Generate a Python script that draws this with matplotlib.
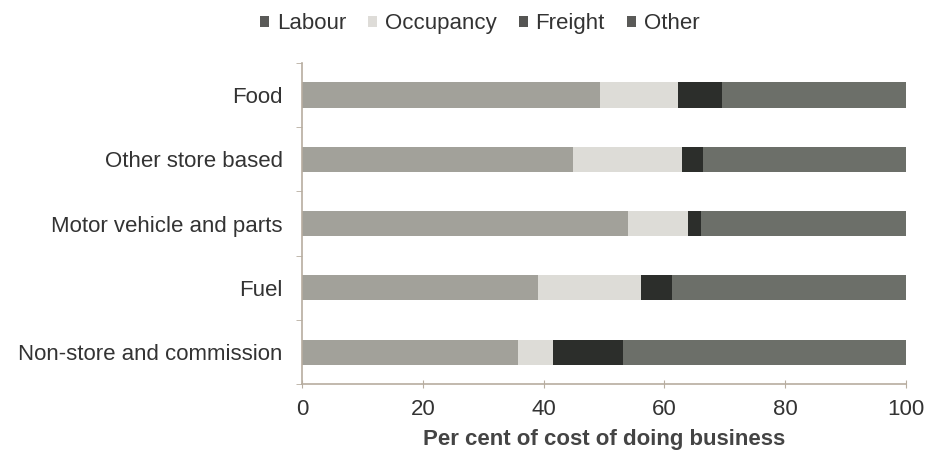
import matplotlib
matplotlib.use('Agg')
import matplotlib.pyplot as plt
from matplotlib.patches import Patch
import numpy as np

plt.rcParams['font.family'] = ['Liberation Sans', 'DejaVu Sans']

# data (per cent of cost of doing business)
categories = ['Food', 'Other store based', 'Motor vehicle and parts', 'Fuel',
              'Non-store and commission']
labour = [49.3, 44.9, 53.9, 39.1, 35.7]
occupancy = [13.0, 18.0, 10.0, 17.1, 5.8]
freight = [7.2, 3.4, 2.2, 5.1, 11.6]
other = [30.5, 33.7, 33.9, 38.7, 46.9]

series_names = ['Labour', 'Occupancy', 'Freight', 'Other']
series_colors = ['#a2a19a', '#dddcd7', '#2c2e2b', '#6c6f69']
legend_colors = ['#5a5a58', '#dedcd8', '#555553', '#5a5a58']

fig = plt.figure(figsize=(9.28, 4.59), dpi=100)
ax = fig.add_axes([0.3254, 0.163, 0.651, 0.700])

y = np.arange(len(categories))
left = np.zeros(len(categories))
for vals, col in zip([labour, occupancy, freight, other], series_colors):
    ax.barh(y, vals, left=left, height=0.39, color=col, edgecolor='none')
    left += np.array(vals)

ax.set_xlim(0, 100)
ax.set_ylim(len(categories) - 0.5, -0.5)
ax.set_xticks([0, 20, 40, 60, 80, 100])
ax.set_yticks(y)
ax.set_yticklabels(categories)
ax.set_yticks(np.arange(-0.5, len(categories)), minor=True)

axis_col = '#b7ada0'
for s in ['top', 'right']:
    ax.spines[s].set_visible(False)
for s in ['left', 'bottom']:
    ax.spines[s].set_color(axis_col)
    ax.spines[s].set_linewidth(1.2)

ax.tick_params(axis='y', which='major', length=0, pad=14, labelsize=16,
               labelcolor='#333333')
ax.tick_params(axis='y', which='minor', length=4, color=axis_col, direction='out')
ax.tick_params(axis='x', length=6, direction='inout', color=axis_col, pad=8,
               labelsize=16, labelcolor='#333333')

ax.set_xlabel('Per cent of cost of doing business', fontsize=16, color='#444444',
              fontweight='bold', labelpad=6)

handles = [Patch(facecolor=c, edgecolor='none') for c in legend_colors]
fig.legend(handles, series_names, loc='upper center', bbox_to_anchor=(0.517, 1.015),
           ncol=4, frameon=False, fontsize=16, handlelength=0.4, handleheight=0.4,
           handletextpad=0.35, columnspacing=1.0, labelcolor='#333333')

fig.savefig('out.png', dpi=100)
